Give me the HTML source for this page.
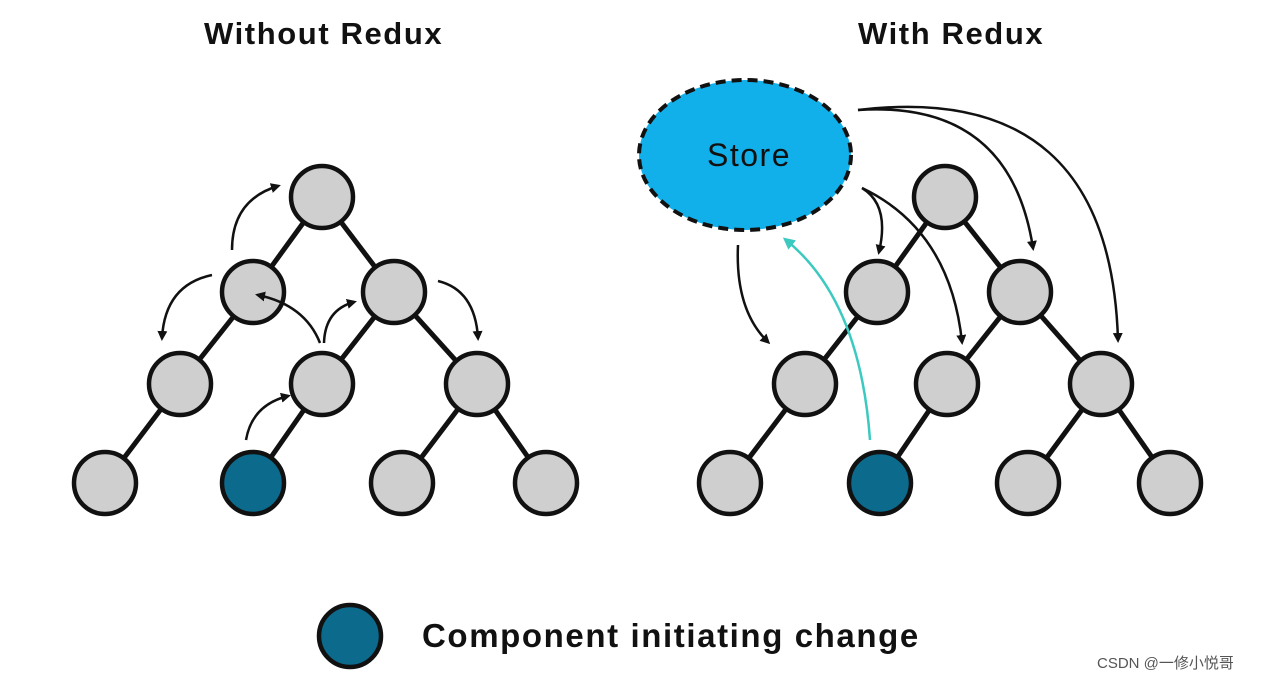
<!DOCTYPE html>
<html><head><style>
html,body{margin:0;padding:0;background:#fff;}
body{width:1273px;height:679px;overflow:hidden;position:relative;font-family:"Liberation Sans",sans-serif;}
.t{position:absolute;font-weight:bold;color:#111;white-space:nowrap;}
</style></head><body>
<svg width="1273" height="679" style="position:absolute;left:0;top:0">
<defs>
<marker id="a" markerWidth="10" markerHeight="10" refX="7" refY="5" orient="auto" markerUnits="userSpaceOnUse"><path d="M0,0 L10,5 L0,10 z" fill="#111"/></marker>
<marker id="c" markerWidth="12" markerHeight="12" refX="8" refY="6" orient="auto" markerUnits="userSpaceOnUse"><path d="M0,0 L12,6 L0,12 z" fill="#3cc9c0"/></marker>
</defs>
<g stroke="#111" stroke-width="5">
<line x1="322" y1="197" x2="253" y2="292"/><line x1="322" y1="197" x2="394" y2="292"/>
<line x1="253" y1="292" x2="180" y2="384"/><line x1="394" y1="292" x2="322" y2="384"/><line x1="394" y1="292" x2="477" y2="384"/>
<line x1="180" y1="384" x2="105" y2="483"/><line x1="322" y1="384" x2="253" y2="483"/><line x1="477" y1="384" x2="402" y2="483"/><line x1="477" y1="384" x2="546" y2="483"/>
<line x1="945" y1="197" x2="877" y2="292"/><line x1="945" y1="197" x2="1020" y2="292"/>
<line x1="877" y1="292" x2="805" y2="384"/><line x1="1020" y1="292" x2="947" y2="384"/><line x1="1020" y1="292" x2="1101" y2="384"/>
<line x1="805" y1="384" x2="730" y2="483"/><line x1="947" y1="384" x2="880" y2="483"/><line x1="1101" y1="384" x2="1028" y2="483"/><line x1="1101" y1="384" x2="1170" y2="483"/>
</g>
<g stroke="#111" stroke-width="4.5" fill="#cfcfcf">
<circle cx="322" cy="197" r="31"/><circle cx="253" cy="292" r="31"/><circle cx="394" cy="292" r="31"/>
<circle cx="180" cy="384" r="31"/><circle cx="322" cy="384" r="31"/><circle cx="477" cy="384" r="31"/>
<circle cx="105" cy="483" r="31"/><circle cx="253" cy="483" r="31" fill="#0c6a8c"/><circle cx="402" cy="483" r="31"/><circle cx="546" cy="483" r="31"/>
<circle cx="945" cy="197" r="31"/><circle cx="877" cy="292" r="31"/><circle cx="1020" cy="292" r="31"/>
<circle cx="805" cy="384" r="31"/><circle cx="947" cy="384" r="31"/><circle cx="1101" cy="384" r="31"/>
<circle cx="730" cy="483" r="31"/><circle cx="880" cy="483" r="31" fill="#0c6a8c"/><circle cx="1028" cy="483" r="31"/><circle cx="1170" cy="483" r="31"/>
<circle cx="350" cy="636" r="31" fill="#0c6a8c"/>
</g>
<g stroke="#111" stroke-width="2.5" fill="none" marker-end="url(#a)">
<path d="M232,250 Q232,200 278,186"/>
<path d="M212,275 Q165,285 162,338"/>
<path d="M320,343 Q305,305 258,295"/>
<path d="M324,343 Q325,310 354,302"/>
<path d="M438,281 Q475,290 478,338"/>
<path d="M246,440 Q252,405 288,396"/>
<path d="M738,245 Q735,310 768,342"/>
<path d="M862,188 Q890,205 879,252"/>
<path d="M862,188 Q950,230 962,342"/>
<path d="M858,110 Q1010,100 1033,248"/>
<path d="M858,110 Q1110,80 1118,340"/>
</g>
<path d="M870,440 Q860,300 786,240" stroke="#3cc9c0" stroke-width="2.5" fill="none" marker-end="url(#c)"/>
<ellipse cx="745" cy="155" rx="106" ry="75" fill="#12b0ea" stroke="#111" stroke-width="4" stroke-dasharray="10,6"/>
<text x="749" y="166" font-family="Liberation Sans,sans-serif" font-size="32" text-anchor="middle" fill="#111" letter-spacing="1.5">Store</text>
</svg>
<div class="t" style="left:204px;top:16px;font-size:31px;letter-spacing:1.6px;">Without Redux</div>
<div class="t" style="left:858px;top:16px;font-size:31px;letter-spacing:1.6px;">With Redux</div>
<div class="t" style="left:422px;top:617px;font-size:33px;letter-spacing:1.6px;">Component initiating change</div>
<div style="position:absolute;left:1097px;top:652px;font-size:15px;color:#555;">CSDN @一修小悦哥</div>
</body></html>
